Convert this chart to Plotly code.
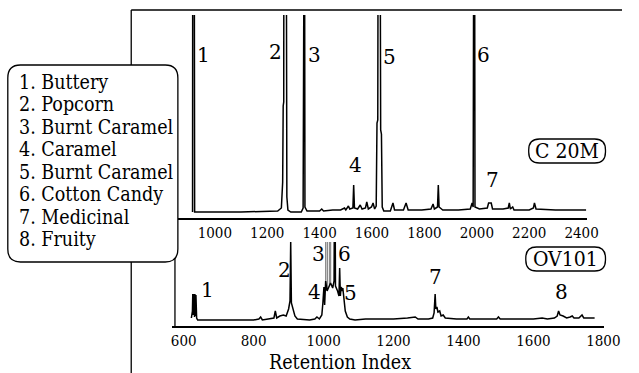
import plotly.graph_objects as go

W, H = 639, 373
SERIF_C = "DejaVu Serif Condensed, DejaVu Serif"
SERIF = "DejaVu Serif"

# ---- C 20M column: retention index vs detector response (baseline = 0)
c20m_ri = [915, 916, 921, 923, 1100, 1240, 1254, 1259, 1261, 1263, 1264, 1272, 1275, 1279, 1290,
           1330, 1337, 1340, 1342, 1344, 1352, 1400, 1408, 1415, 1450, 1480, 1495, 1500, 1510,
           1515, 1527, 1530, 1533, 1545, 1555, 1562, 1575, 1580, 1586, 1598, 1604, 1610, 1616,
           1619, 1622, 1624, 1630, 1633, 1636, 1639, 1645, 1670, 1680, 1686, 1720, 1730, 1738,
           1790, 1825, 1833, 1838, 1850, 1853, 1856, 1870, 1930, 1975, 1982, 1986, 1989, 1991,
           1993, 2010, 2040, 2045, 2055, 2060, 2100, 2120, 2124, 2128, 2137, 2142, 2200, 2216,
           2220, 2226, 2300, 2417]
c20m_resp = [0, 400, 400, 0, 0, 1, 4, 30, 106, 110, 400, 400, 15, 2, 0,
             0, 4, 400, 400, 5, 1, 1, 3, 1, 2, 2, 4, 2, 6,
             3, 4, 27, 4, 3, 7, 3, 4, 10, 3, 5, 9, 3, 6,
             89, 92, 400, 400, 82, 78, 5, 1, 1, 9, 2, 2, 9, 2,
             2, 3, 8, 3, 5, 27, 5, 2, 2, 3, 9, 5, 400, 400,
             5, 3, 4, 9, 9, 3, 3, 4, 9, 3, 5, 2, 2, 4,
             9, 3, 2, 2]

# ---- OV101 column
ov101_ri = [622, 625, 626, 628, 629, 631, 632, 634, 635, 637, 640, 700, 760, 800, 815, 820, 825,
            850, 858, 862, 866, 875, 885, 893, 900, 904, 906, 908, 912, 918, 925, 960, 975, 981,
            988, 995, 998, 1001, 1003, 1006, 1010, 1015, 1020, 1026, 1030, 1032, 1034, 1040,
            1044, 1046, 1048, 1050, 1053, 1055, 1058, 1062, 1068, 1075, 1090, 1120, 1160, 1200,
            1240, 1262, 1270, 1300, 1312, 1316, 1319, 1321, 1324, 1327, 1332, 1336, 1342, 1348,
            1380, 1410, 1414, 1418, 1450, 1495, 1500, 1505, 1560, 1600, 1625, 1640, 1660, 1668,
            1672, 1676, 1685, 1695, 1705, 1711, 1716, 1730, 1739, 1744, 1760, 1775]
ov101_resp = [3, 10, 27, 6, 27, 4, 27, 5, 26, 3, 1, 1, 1, 1, 2, 4, 1,
              2, 3, 10, 3, 5, 6, 5, 12, 20, 79, 18, 12, 5, 2, 1, 2, 4,
              2, 6, 18, 34, 16, 40, 30, 35, 38, 33, 40, 200, 35, 30,
              25, 53, 25, 34, 30, 33, 25, 10, 4, 2, 1, 2, 2, 2,
              3, 4, 2, 2, 3, 8, 27, 12, 14, 9, 10, 5, 6, 3,
              2, 2, 4, 2, 2, 2, 4, 2, 2, 2, 3, 2, 3, 5,
              10, 6, 5, 3, 4, 5, 3, 3, 6, 3, 3, 3]

# off-scale co-eluting spikes around peak 3 on OV101 (drawn lighter)
ov101_spike_ri = [1006, 1011, 1017, 1020]
ov101_spike_low = [30, 32, 36, 38]
ov101_spike_high = [200, 200, 200, 200]

# ---- peak numbers and their label positions (retention index, response)
c20m_lbl = ["1", "2", "3", "4", "5", "6", "7"]
c20m_lbl_ri = [955, 1230, 1382, 1538, 1668, 2027, 2061]
c20m_lbl_y = [157, 160, 157, 47, 155, 157, 32]

ov101_lbl = ["1", "2", "3", "4", "6", "5", "7", "8"]
ov101_lbl_ri = [669, 889, 986, 975, 1061, 1078, 1319, 1681]
ov101_lbl_y = [31, 51, 67, 29, 67, 28, 44, 29]

odor_notes = ["1. Buttery", "2. Popcorn", "3. Burnt Caramel", "4. Caramel",
              "5. Burnt Caramel", "6. Cotton Candy", "7. Medicinal", "8. Fruity"]

c20m_ticks = [1000, 1200, 1400, 1600, 1800, 2000, 2200, 2400]
ov101_ticks = [600, 800, 1000, 1200, 1400, 1600, 1800]


def px(x):
    return x / W


def py(y):
    return 1 - y / H


def rounded_path(x0, y0, x1, y1, r):
    """Rounded rectangle in paper coordinates from pixel corners."""
    pts = [
        ("M", x0 + r, y0), ("L", x1 - r, y0), ("Q", x1, y0, x1, y0 + r),
        ("L", x1, y1 - r), ("Q", x1, y1, x1 - r, y1), ("L", x0 + r, y1),
        ("Q", x0, y1, x0, y1 - r), ("L", x0, y0 + r), ("Q", x0, y0, x0 + r, y0),
    ]
    out = []
    for p in pts:
        if p[0] == "Q":
            out.append(f"Q{px(p[1]):.5f},{py(p[2]):.5f} {px(p[3]):.5f},{py(p[4]):.5f}")
        else:
            out.append(f"{p[0]}{px(p[1]):.5f},{py(p[2]):.5f}")
    return " ".join(out) + " Z"


fig = go.Figure()

fig.add_trace(go.Scatter(x=c20m_ri, y=c20m_resp, mode="lines", xaxis="x", yaxis="y",
                         line=dict(color="black", width=1.5), hoverinfo="skip"))

spike_x, spike_y = [], []
for r, lo, hi in zip(ov101_spike_ri, ov101_spike_low, ov101_spike_high):
    spike_x += [r, r, None]
    spike_y += [lo, hi, None]
fig.add_trace(go.Scatter(x=spike_x, y=spike_y, mode="lines", xaxis="x2", yaxis="y2",
                         line=dict(color="#8a8a8a", width=1.3), hoverinfo="skip"))
fig.add_trace(go.Scatter(x=ov101_ri, y=ov101_resp, mode="lines", xaxis="x2", yaxis="y2",
                         line=dict(color="black", width=1.5), hoverinfo="skip"))

annotations = []
for t, xv, yv in zip(c20m_lbl, c20m_lbl_ri, c20m_lbl_y):
    annotations.append(dict(x=xv, y=yv, xref="x", yref="y", text=t, showarrow=False,
                            xanchor="center", yanchor="middle",
                            font=dict(family=SERIF, size=20, color="black")))
for t, xv, yv in zip(ov101_lbl, ov101_lbl_ri, ov101_lbl_y):
    annotations.append(dict(x=xv, y=yv, xref="x2", yref="y2", text=t, showarrow=False,
                            xanchor="center", yanchor="middle",
                            font=dict(family=SERIF, size=20, color="black")))

# odor descriptor key
for i, t in enumerate(odor_notes):
    annotations.append(dict(x=px(16), y=py(82 + 22.5 * i), xref="paper", yref="paper",
                            text=t, showarrow=False, xanchor="left", yanchor="middle",
                            font=dict(family=SERIF_C, size=19.5, color="black")))

# column names and axis title
for t, cx, cy, fs in [("C 20M", 582.5, 151, 21), ("OV101", 581, 259, 21),
                      ("Retention Index", 349, 362, 19.5)]:
    annotations.append(dict(x=px(cx), y=py(cy), xref="paper", yref="paper", text=t,
                            showarrow=False, xanchor="center", yanchor="middle",
                            font=dict(family=SERIF_C, size=fs, color="black")))

shapes = [
    # outer frame
    dict(type="line", xref="paper", yref="paper", x0=px(134), x1=px(134), y0=py(10), y1=py(373),
         line=dict(color="black", width=1.3)),
    dict(type="line", xref="paper", yref="paper", x0=px(134), x1=px(639), y0=py(10), y1=py(10),
         line=dict(color="black", width=1.5)),
    # left rule of the lower chromatogram
    dict(type="line", xref="paper", yref="paper", x0=px(179), x1=px(179), y0=py(218), y1=py(326),
         line=dict(color="black", width=1.3)),
    # key box
    dict(type="path", xref="paper", yref="paper", path=rounded_path(7, 65, 182, 262, 13),
         fillcolor="white", line=dict(color="black", width=1.3)),
    # column name boxes
    dict(type="path", xref="paper", yref="paper", path=rounded_path(543, 139, 622, 163, 11),
         line=dict(color="black", width=1.3)),
    dict(type="path", xref="paper", yref="paper", path=rounded_path(540, 247, 622, 271, 11),
         line=dict(color="black", width=1.3)),
]

tickfont = dict(family=SERIF_C, size=15, color="black")
fig.update_layout(
    width=W, height=H, autosize=False,
    margin=dict(l=0, r=0, t=0, b=0, pad=0),
    paper_bgcolor="white", plot_bgcolor="rgba(0,0,0,0)",
    showlegend=False,
    xaxis=dict(domain=[px(182), px(603)], range=[859, 2420.6], anchor="y",
               tickvals=c20m_ticks, ticks="", showgrid=False, zeroline=False,
               showline=True, linecolor="black", linewidth=1.5, tickfont=tickfont),
    yaxis=dict(domain=[py(218), py(15)], range=[-6, 197], visible=False, fixedrange=True),
    xaxis2=dict(domain=[px(176), px(620)], range=[566.7, 1800.5], anchor="y2",
                tickvals=ov101_ticks, ticks="", showgrid=False, zeroline=False,
                showline=True, linecolor="black", linewidth=2, tickfont=tickfont),
    yaxis2=dict(domain=[py(326), py(242)], range=[-5, 79], visible=False, fixedrange=True),
    annotations=annotations,
    shapes=shapes,
)

fig.write_html("out.html", config={"responsive": False, "displayModeBar": False})
